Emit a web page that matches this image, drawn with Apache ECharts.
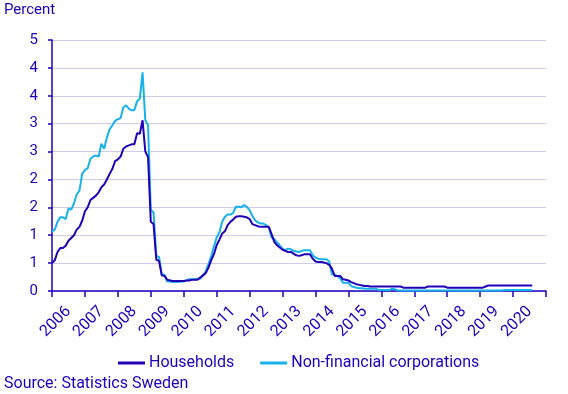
<!DOCTYPE html>
<html>
<head>
<meta charset="utf-8">
<script src="https://cdn.jsdelivr.net/npm/echarts@6/dist/echarts.min.js"></script>
<style>
html,body{margin:0;padding:0;background:#fff;}
#chart{width:568px;height:394px;}
</style>
</head>
<body>
<div id="chart"></div>
<script>
// Year labels (one per year band on the x axis)
const years = ['2006','2007','2008','2009','2010','2011','2012','2013','2014','2015','2016','2017','2018','2019','2020'];
// Y tick labels as printed (ticks every 0.5, labels rounded)
const yTickLabels = ['0','1','1','2','2','3','3','4','4','5'];
// Monthly values, Jan 2006 onwards
const households = [
0.50,0.55,0.70,0.77,0.77,0.81,0.90,0.95,1.00,1.10,1.15,1.26,
1.43,1.50,1.63,1.67,1.71,1.77,1.86,1.91,2.00,2.10,2.19,2.33,
2.36,2.41,2.55,2.59,2.61,2.63,2.63,2.83,2.82,3.06,2.50,2.40,
1.24,1.20,0.56,0.54,0.28,0.27,0.20,0.19,0.18,0.18,0.18,0.18,
0.18,0.19,0.19,0.20,0.20,0.20,0.24,0.28,0.32,0.42,0.55,0.66,
0.82,0.92,1.03,1.07,1.18,1.24,1.28,1.33,1.34,1.34,1.33,1.32,
1.29,1.20,1.18,1.16,1.15,1.15,1.15,1.15,1.02,0.88,0.82,0.78,
0.74,0.72,0.70,0.70,0.67,0.64,0.63,0.64,0.66,0.66,0.66,0.58,
0.53,0.52,0.52,0.51,0.50,0.47,0.40,0.27,0.27,0.27,0.21,0.20,
0.19,0.16,0.14,0.12,0.11,0.10,0.09,0.09,0.08,0.08,0.08,0.08,
0.08,0.08,0.08,0.08,0.08,0.08,0.08,0.08,0.06,0.06,0.06,0.06,
0.06,0.06,0.06,0.06,0.06,0.08,0.08,0.08,0.08,0.08,0.08,0.08,
0.06,0.06,0.06,0.06,0.06,0.06,0.06,0.06,0.06,0.06,0.06,0.06,
0.06,0.06,0.08,0.10,0.10,0.10,0.10,0.10,0.10,0.10,0.10,0.10,
0.10,0.10,0.10,0.10,0.10,0.10,0.10,0.10
];
const corporations = [
1.07,1.10,1.24,1.32,1.32,1.29,1.48,1.46,1.57,1.73,1.80,2.10,
2.17,2.20,2.37,2.41,2.43,2.41,2.64,2.55,2.75,2.90,2.97,3.05,
3.08,3.10,3.29,3.33,3.27,3.24,3.24,3.40,3.45,3.92,3.06,2.97,
1.45,1.41,0.63,0.61,0.29,0.29,0.17,0.17,0.16,0.16,0.16,0.17,
0.17,0.19,0.21,0.21,0.21,0.22,0.22,0.28,0.35,0.48,0.62,0.80,
0.96,1.05,1.24,1.33,1.37,1.37,1.40,1.51,1.51,1.50,1.54,1.51,
1.45,1.35,1.27,1.23,1.21,1.21,1.18,1.14,0.96,0.93,0.87,0.82,
0.76,0.73,0.76,0.75,0.72,0.71,0.70,0.72,0.73,0.73,0.73,0.64,
0.60,0.58,0.57,0.57,0.57,0.53,0.30,0.29,0.27,0.23,0.15,0.15,
0.15,0.09,0.07,0.06,0.05,0.05,0.04,0.04,0.04,0.04,0.04,0.02,
0.02,0.02,0.02,0.02,0.04,0.03,0.01,0.01,0.01,0.01,0.01,0.01,
0.01,0.01,0.01,0.01,0.01,0.01,0.01,0.01,0.01,0.01,0.01,0.01,
0.01,0.01,0.01,0.01,0.01,0.01,0.01,0.01,0.01,0.01,0.01,0.01,
0.01,0.01,0.01,0.01,0.01,0.01,0.01,0.01,0.01,0.02,0.02,0.02,
0.02,0.02,0.02,0.02,0.02,0.02,0.02,0.02
];

const TXT = '#1E00BE';
const DARK = '#2200B8';
const LIGHT = '#18B2EA';
const FONT = 'Roboto';

const chart = echarts.init(document.getElementById('chart'), null, {renderer:'canvas'});
chart.setOption({
  animation: false,
  textStyle: {fontFamily: FONT, color: TXT},
  grid: {left: 52, right: 22, top: 40, bottom: 103, containLabel: false},
  graphic: [
    {type:'text', left: 4, top: 3, style:{text:'Percent', font:'15px Roboto', fill: TXT}},
    {type:'text', left: 4, top: 376, style:{text:'Source: Statistics Sweden', font:'16px Roboto', fill: TXT}}
  ],
  legend: {
    left: 113, top: 350,
    itemWidth: 27, itemHeight: 3, itemGap: 26,
    icon: 'rect',
    textStyle: {fontFamily: FONT, fontSize: 16, color: TXT, padding:[0,0,0,-1]},
    data: ['Households','Non-financial corporations']
  },
  xAxis: [
    {
      type: 'value', min: 0, max: years.length*12, interval: 12,
      axisLine: {show: true, lineStyle: {color: TXT, width: 1.5}},
      axisTick: {show: true, length: 6, lineStyle: {color: TXT, width: 1.5}},
      axisLabel: {show: false},
      splitLine: {show: false}
    },
    {
      type: 'category', position: 'bottom', data: years, boundaryGap: true,
      axisLine: {show: false}, axisTick: {show: false},
      axisLabel: {rotate: 45, margin: 18, fontFamily: FONT, fontSize: 16, color: TXT, interval: 0},
      splitLine: {show: false}
    }
  ],
  yAxis: {
    type: 'value', min: 0, max: 4.5, interval: 0.5,
    axisLine: {show: true, lineStyle: {color: TXT, width: 1.5}},
    axisTick: {show: true, length: 4, lineStyle: {color: TXT, width: 1.5}},
    axisLabel: {margin: 14, fontFamily: FONT, fontSize: 15, color: TXT,
      formatter: v => yTickLabels[Math.round(v/0.5)]},
    splitLine: {show: true, lineStyle: {color: '#CFCBE8', width: 1}}
  },
  series: [
    {
      name: 'Households', type: 'line', xAxisIndex: 0, showSymbol: false, symbol: 'none',
      data: households.map((v,i)=>[i,v]),
      lineStyle: {color: DARK, width: 2}, itemStyle: {color: DARK}, z: 3
    },
    {
      name: 'Non-financial corporations', type: 'line', xAxisIndex: 0, showSymbol: false, symbol: 'none',
      data: corporations.map((v,i)=>[i,v]),
      lineStyle: {color: LIGHT, width: 2}, itemStyle: {color: LIGHT}, z: 2
    }
  ]
});
</script>
</body>
</html>
